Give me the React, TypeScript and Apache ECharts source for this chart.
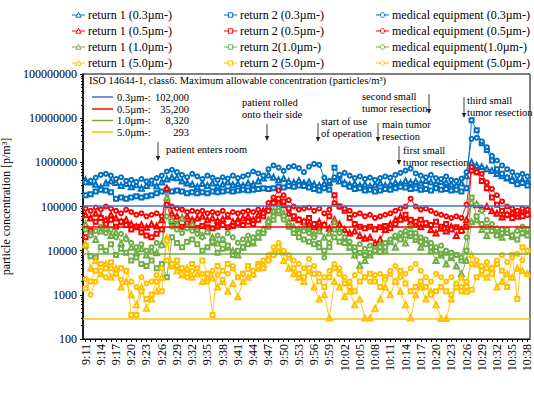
import { useEffect, useRef } from "react";
import * as echarts from "echarts";

// ---- categories: one sample per minute, 9:11 .. 10:38 ----
const times: string[] = [];
for (let m = 9 * 60 + 11; m <= 10 * 60 + 38; m++) {
  times.push(`${Math.floor(m / 60)}:${String(m % 60).padStart(2, "0")}`);
}

// ---- 0.3 µm ----
const ret1_03 = [
  4.0e5, 3.6e5, 3.2e5, 2.7e5, 3.4e5, 3.8e5, 3.5e5, 3.0e5, 3.3e5, 2.8e5, 3.1e5,
  2.6e5, 3.0e5, 3.4e5, 2.9e5, 3.6e5, 4.2e5, 4.6e5, 4.5e5, 3.8e5, 3.4e5, 3.2e5,
  2.8e5, 3.3e5, 3.0e5, 3.4e5, 2.9e5, 3.2e5, 3.6e5, 3.1e5, 3.3e5, 3.0e5, 3.4e5,
  3.2e5, 3.8e5, 4.4e5, 5.2e5, 4.6e5, 4.0e5, 4.3e5, 3.7e5, 3.5e5, 3.9e5, 3.4e5,
  3.6e5, 3.2e5, 3.0e5, 3.3e5, 3.5e5, 4.2e5, 3.8e5, 3.4e5, 3.1e5, 3.3e5, 3.0e5,
  3.2e5, 2.9e5, 3.1e5, 3.4e5, 3.0e5, 3.2e5, 3.5e5, 3.3e5, 3.8e5, 3.5e5, 3.7e5,
  3.4e5, 3.9e5, 3.6e5, 3.3e5, 3.7e5, 3.5e5, 3.2e5, 3.0e5, 3.4e5, 5.0e5, 1.0e6,
  8.5e5, 8.0e5, 7.2e5, 6.5e5, 5.6e5, 5.0e5, 4.4e5, 4.2e5, 3.8e5, 4.0e5, 3.6e5,
];
const ret2_03 = [
  1.8e5, 1.9e5, 2.2e5, 2.4e5, 2.3e5, 2.1e5, 1.5e5, 1.6e5, 1.5e5, 1.6e5, 1.7e5,
  1.6e5, 1.7e5, 1.8e5, 2.0e5, 2.2e5, 2.4e5, 2.2e5, 2.3e5, 2.2e5, 2.0e5, 2.1e5,
  2.0e5, 2.1e5, 2.0e5, 2.2e5, 2.1e5, 2.2e5, 2.3e5, 2.2e5, 2.3e5, 2.4e5, 2.3e5,
  2.4e5, 2.5e5, 2.6e5, 2.5e5, 2.6e5, 2.8e5, 2.7e5, 2.9e5, 2.8e5, 3.0e5, 2.9e5,
  2.7e5, 2.5e5, 2.3e5, 2.6e5, 2.4e5, 7.5e5, 5.0e5, 3.2e5, 2.8e5, 2.5e5, 2.6e5,
  2.3e5, 2.4e5, 2.2e5, 2.3e5, 2.5e5, 2.4e5, 2.6e5, 2.8e5, 2.7e5, 2.5e5, 2.6e5,
  2.4e5, 2.5e5, 2.3e5, 2.6e5, 2.4e5, 2.5e5, 2.3e5, 2.4e5, 2.2e5, 2.6e5, 9.0e6,
  5.3e6, 2.7e6, 1.9e6, 1.1e6, 7.0e5, 5.5e5, 4.5e5, 3.8e5, 3.2e5, 3.4e5, 3.0e5,
];
const med_03 = [
  3.5e5, 3.8e5, 4.5e5, 5.2e5, 5.5e5, 5.0e5, 4.2e5, 4.6e5, 3.8e5, 4.0e5, 3.6e5,
  4.2e5, 3.7e5, 3.9e5, 4.4e5, 5.0e5, 6.2e5, 6.8e5, 6.0e5, 5.2e5, 4.6e5, 5.5e5,
  4.8e5, 4.2e5, 5.0e5, 4.5e5, 4.0e5, 4.6e5, 4.3e5, 5.0e5, 4.4e5, 4.8e5, 5.2e5,
  6.2e5, 5.6e5, 5.0e5, 7.0e5, 8.5e5, 7.6e5, 6.4e5, 7.8e5, 8.2e5, 7.4e5, 6.0e5,
  8.0e5, 9.2e5, 8.8e5, 4.5e5, 3.8e5, 4.6e5, 5.2e5, 5.8e5, 5.0e5, 4.4e5, 4.8e5,
  4.2e5, 4.5e5, 4.0e5, 4.4e5, 4.8e5, 4.5e5, 5.2e5, 5.8e5, 6.5e5, 7.2e5, 5.6e5,
  5.0e5, 4.6e5, 5.2e5, 4.4e5, 4.2e5, 4.8e5, 4.0e5, 3.8e5, 4.3e5, 6.0e5, 3.4e6,
  3.6e6, 3.0e6, 2.2e6, 1.4e6, 1.1e6, 8.5e5, 7.0e5, 6.0e5, 5.0e5, 5.5e5, 4.8e5,
];

// ---- 0.5 µm ----
const ret1_05 = [
  6.5e4, 5.5e4, 7.0e4, 6.0e4, 5.0e4, 6.5e4, 5.5e4, 4.5e4, 5.0e4, 4.0e4, 3.5e4,
  3.8e4, 3.4e4, 4.0e4, 3.6e4, 5.0e4, 2.6e5, 7.0e4, 6.0e4, 5.5e4, 6.0e4, 5.0e4,
  5.5e4, 6.0e4, 5.0e4, 5.5e4, 4.8e4, 5.2e4, 6.0e4, 4.5e4, 5.0e4, 5.5e4, 6.0e4,
  5.0e4, 6.5e4, 8.0e4, 1.0e5, 1.5e5, 1.3e5, 1.1e5, 7.0e4, 5.5e4, 5.0e4, 4.5e4,
  4.0e4, 3.5e4, 4.5e4, 3.8e4, 3.2e4, 5.0e4, 4.0e4, 3.0e4, 2.5e4, 2.8e4, 2.2e4,
  1.9e4, 2.0e4, 1.5e4, 1.8e4, 3.0e4, 4.0e4, 5.0e4, 6.0e4, 5.5e4, 4.5e4, 4.0e4,
  3.5e4, 4.0e4, 3.0e4, 2.5e4, 3.2e4, 2.8e4, 3.5e4, 2.2e4, 3.0e4, 5.0e4, 1.2e5,
  1.1e5, 9.0e4, 1.0e5, 8.0e4, 7.0e4, 5.8e4, 6.5e4, 7.5e4, 6.0e4, 8.0e4, 7.0e4,
];
const ret2_05 = [
  2.0e4, 2.8e4, 4.5e4, 5.5e4, 4.0e4, 5.0e4, 3.5e4, 4.5e4, 3.8e4, 3.0e4, 3.5e4,
  2.6e4, 2.2e4, 2.0e4, 2.4e4, 3.0e4, 1.1e5, 4.5e4, 4.0e4, 3.5e4, 4.2e4, 3.8e4,
  3.3e4, 3.6e4, 3.4e4, 3.2e4, 3.5e4, 3.8e4, 3.4e4, 3.6e4, 4.2e4, 3.8e4, 4.5e4,
  4.0e4, 5.0e4, 6.0e4, 8.0e4, 1.2e5, 1.5e5, 1.3e5, 9.0e4, 6.0e4, 5.0e4, 4.5e4,
  5.5e4, 4.0e4, 3.2e4, 3.8e4, 6.0e4, 1.8e5, 1.0e5, 8.0e4, 5.5e4, 4.0e4, 3.5e4,
  3.2e4, 3.5e4, 3.0e4, 3.4e4, 3.6e4, 3.2e4, 4.0e4, 5.0e4, 6.5e4, 5.0e4, 4.5e4,
  5.0e4, 4.2e4, 3.8e4, 4.5e4, 3.5e4, 4.0e4, 3.0e4, 3.4e4, 2.8e4, 3.5e4, 6.5e5,
  6.0e5, 3.8e5, 2.6e5, 1.6e5, 1.1e5, 8.0e4, 6.5e4, 5.5e4, 7.0e4, 6.0e4, 6.5e4,
];
const med_05 = [
  9.0e4, 8.0e4, 9.5e4, 8.5e4, 1.0e5, 9.0e4, 8.0e4, 7.0e4, 8.5e4, 7.5e4, 6.5e4,
  7.0e4, 6.0e4, 6.5e4, 7.0e4, 6.0e4, 1.1e5, 1.0e5, 9.0e4, 8.5e4, 7.5e4, 8.0e4,
  7.5e4, 8.0e4, 7.0e4, 7.5e4, 7.0e4, 8.0e4, 6.5e4, 7.5e4, 7.0e4, 7.5e4, 8.0e4,
  7.5e4, 8.5e4, 7.0e4, 1.2e5, 1.6e5, 2.3e5, 1.8e5, 1.4e5, 1.0e5, 8.5e4, 9.0e4,
  9.5e4, 8.0e4, 9.0e4, 7.0e4, 8.5e4, 1.2e5, 1.0e5, 9.0e4, 8.0e4, 6.5e4, 7.0e4,
  6.0e4, 6.5e4, 5.5e4, 6.0e4, 6.5e4, 7.0e4, 8.0e4, 9.0e4, 1.0e5, 1.5e5, 1.0e5,
  8.5e4, 9.0e4, 8.0e4, 7.0e4, 6.5e4, 6.0e4, 5.5e4, 6.0e4, 5.5e4, 1.1e5, 7.8e5,
  6.0e5, 5.5e5, 3.5e5, 2.5e5, 1.8e5, 1.3e5, 1.0e5, 9.0e4, 8.0e4, 9.0e4, 8.5e4,
];

// ---- 1.0 µm ----
const ret1_10 = [
  4.0e4, 2.5e4, 1.8e4, 2.8e4, 3.2e4, 2.2e4, 2.6e4, 1.5e4, 2.0e4, 1.2e4, 9.0e3,
  1.1e4, 8.0e3, 1.0e4, 9.0e3, 1.4e4, 1.6e5, 5.0e4, 4.0e4, 5.5e4, 3.5e4, 4.0e4,
  3.0e4, 2.2e4, 2.8e4, 2.0e4, 1.5e4, 1.8e4, 1.2e4, 1.0e4, 8.0e3, 1.2e4, 1.6e4,
  1.5e4, 2.0e4, 3.0e4, 5.0e4, 8.0e4, 1.0e5, 7.0e4, 4.5e4, 3.5e4, 3.0e4, 3.5e4,
  3.0e4, 2.4e4, 2.8e4, 2.0e4, 2.5e4, 4.5e4, 3.0e4, 2.0e4, 1.2e4, 8.0e3, 4.7e3,
  6.0e3, 8.0e3, 1.0e4, 1.4e4, 1.0e4, 1.6e4, 1.2e4, 2.0e4, 1.5e4, 2.2e4, 1.8e4,
  1.2e4, 1.5e4, 1.0e4, 6.0e3, 8.0e3, 5.0e3, 7.0e3, 4.5e3, 3.0e3, 6.0e3, 4.5e4,
  5.0e4, 3.0e4, 2.2e4, 3.5e4, 2.5e4, 2.0e4, 2.8e4, 2.2e4, 3.0e4, 2.5e4, 2.8e4,
];
const ret2_10 = [
  1.3e4, 7.5e3, 7.0e3, 1.2e4, 1.0e4, 1.4e4, 8.0e3, 1.1e4, 9.0e3, 6.0e3, 7.0e3,
  5.0e3, 4.5e3, 6.0e3, 4.0e3, 5.0e3, 2.5e3, 2.0e4, 1.5e4, 1.2e4, 1.6e4, 1.8e4,
  1.4e4, 1.0e4, 1.2e4, 1.5e4, 9.0e3, 1.1e4, 1.3e4, 8.0e3, 1.0e4, 1.2e4, 1.4e4,
  1.6e4, 2.0e4, 2.5e4, 3.5e4, 5.0e4, 7.0e4, 6.0e4, 3.5e4, 2.5e4, 2.0e4, 1.8e4,
  1.6e4, 1.4e4, 1.2e4, 1.0e4, 1.2e4, 2.0e4, 1.6e4, 1.5e4, 1.2e4, 1.0e4, 9.0e3,
  8.0e3, 9.0e3, 1.1e4, 9.5e3, 1.2e4, 1.6e4, 2.0e4, 1.8e4, 2.2e4, 2.5e4, 2.0e4,
  1.6e4, 1.4e4, 1.2e4, 1.0e4, 8.5e3, 9.0e3, 7.5e3, 8.0e3, 6.0e3, 1.0e4, 1.6e5,
  6.0e4, 4.0e4, 3.5e4, 2.8e4, 2.2e4, 3.0e4, 2.5e4, 2.0e4, 1.8e4, 2.5e4, 2.2e4,
];
const med_10 = [
  3.0e4, 2.2e4, 2.8e4, 3.5e4, 2.5e4, 3.0e4, 2.0e4, 2.4e4, 1.8e4, 1.5e4, 1.2e4,
  1.4e4, 1.0e4, 1.2e4, 1.5e4, 1.3e4, 6.0e4, 3.5e4, 3.0e4, 2.5e4, 3.2e4, 2.8e4,
  2.4e4, 2.0e4, 2.6e4, 1.6e4, 2.2e4, 1.8e4, 2.5e4, 2.0e4, 1.5e4, 1.8e4, 2.2e4,
  2.0e4, 2.6e4, 3.0e4, 4.5e4, 6.0e4, 8.0e4, 5.0e4, 3.5e4, 3.0e4, 2.5e4, 2.8e4,
  2.5e4, 2.0e4, 1.5e4, 7.0e3, 1.5e4, 3.0e4, 2.5e4, 2.0e4, 1.6e4, 1.2e4, 1.4e4,
  1.1e4, 1.3e4, 1.0e4, 1.2e4, 1.5e4, 1.8e4, 2.2e4, 2.5e4, 2.8e4, 3.5e4, 2.5e4,
  2.0e4, 1.8e4, 1.5e4, 1.2e4, 1.3e4, 1.0e4, 9.0e3, 8.0e3, 7.0e3, 2.0e4, 1.2e5,
  1.1e5, 8.0e4, 5.0e4, 4.0e4, 3.2e4, 2.5e4, 3.0e4, 2.2e4, 2.8e4, 3.5e4, 3.0e4,
];

// ---- 5.0 µm ----
const ret1_50 = [
  1.4e4, 4.0e3, 6.0e3, 3.0e3, 5.0e3, 2.5e3, 4.0e3, 1.5e3, 2.0e3, 1.0e3, 6.0e2,
  1.5e3, 5.0e2, 8.0e2, 1.2e3, 2.5e3, 2.0e4, 4.5e3, 3.5e3, 2.8e3, 4.0e3, 2.5e3,
  3.0e3, 2.0e3, 2.5e3, 2.4e3, 1.5e3, 2.0e3, 1.2e3, 1.8e3, 9.0e2, 2.0e3, 2.5e3,
  3.0e3, 4.0e3, 5.0e3, 7.0e3, 9.0e3, 1.0e4, 6.0e3, 4.0e3, 3.0e3, 2.5e3, 2.0e3,
  3.5e3, 1.5e3, 8.0e2, 1.0e3, 3.0e2, 2.0e3, 1.5e3, 9.0e2, 1.2e3, 6.0e2, 8.0e2,
  3.0e2, 3.0e2, 5.0e2, 8.0e2, 1.5e3, 1.0e3, 2.0e3, 1.2e3, 6.0e2, 3.0e2, 1.0e3,
  1.5e3, 8.0e2, 1.2e3, 6.0e2, 2.9e2, 2.9e2, 8.0e2, 1.5e3, 2.5e3, 1.2e3, 8.0e3,
  5.0e3, 3.0e3, 2.5e3, 4.0e3, 1.5e3, 2.0e3, 3.0e3, 2.5e3, 4.0e3, 3.5e3, 3.0e3,
];
const ret2_50 = [
  1.4e3, 2.0e3, 3.5e3, 5.0e3, 4.0e3, 5.5e3, 3.0e3, 4.0e3, 3.5e3, 3.5e2, 3.5e2,
  1.2e3, 8.0e2, 1.0e3, 2.0e3, 1.2e3, 1.7e4, 5.0e3, 6.0e3, 4.0e3, 3.0e3, 5.0e3,
  4.0e3, 6.0e3, 3.0e3, 3.5e2, 4.5e3, 3.5e3, 5.0e3, 4.0e3, 2.5e3, 3.0e3, 4.5e3,
  3.5e3, 5.0e3, 4.0e3, 6.0e3, 8.0e3, 1.2e4, 9.0e3, 7.0e3, 4.0e3, 3.0e3, 2.5e3,
  4.0e3, 3.0e3, 2.0e3, 1.5e3, 2.5e3, 4.0e3, 3.0e3, 1.8e3, 1.5e3, 1.2e3, 2.0e3,
  2.5e3, 3.0e3, 2.0e3, 1.5e3, 2.5e3, 3.0e3, 2.0e3, 3.5e3, 1.8e3, 1.2e3, 1.5e3,
  2.0e3, 1.5e3, 1.0e3, 1.2e3, 1.5e3, 1.2e3, 1.0e3, 1.5e3, 1.2e3, 1.5e3, 1.3e3,
  2.5e3, 3.5e3, 4.0e3, 3.0e3, 5.0e3, 3.5e3, 1.5e3, 8.0e3, 8.0e2, 1.2e4, 1.0e4,
];
const med_50 = [
  2.3e3, 1.0e3, 2.0e3, 3.5e3, 2.5e3, 4.0e3, 3.0e3, 2.2e3, 3.5e3, 2.0e3, 1.5e3,
  2.5e3, 1.8e3, 2.0e3, 2.8e3, 4.0e3, 6.0e3, 5.0e3, 4.5e3, 3.0e3, 2.5e3, 3.5e3,
  4.0e3, 3.0e3, 2.0e3, 3.5e3, 2.8e3, 2.2e3, 3.0e3, 4.5e3, 2.5e3, 3.0e3, 3.8e3,
  2.8e3, 4.5e3, 6.0e3, 8.0e3, 1.2e4, 1.5e4, 1.0e4, 8.0e3, 6.0e3, 5.0e3, 4.0e3,
  6.5e3, 4.5e3, 3.0e3, 2.5e3, 3.5e3, 5.0e3, 4.0e3, 2.5e3, 2.0e3, 2.8e3, 3.5e3,
  2.5e3, 2.0e3, 2.8e3, 3.0e3, 2.2e3, 3.5e3, 4.5e3, 2.5e3, 3.0e3, 4.0e3, 5.0e3,
  3.5e3, 2.5e3, 2.0e3, 3.0e3, 2.5e3, 2.0e3, 2.5e3, 1.8e3, 1.5e3, 2.0e3, 5.0e3,
  6.0e3, 4.5e3, 5.5e3, 4.0e3, 6.0e3, 8.0e3, 5.5e3, 7.0e3, 8.5e3, 6.0e3, 1.0e4,
];

// ---- ISO 14644-1 class 6 limits ----
const limitSizes = ["0.3µm-:", "0.5µm-:", "1.0µm-:", "5.0µm-:"];
const limitValues = [102000, 35200, 8320, 293];

const FONT = "Liberation Serif, Times New Roman, serif";
const BLUE = "#0070C0";
const RED = "#FF0000";
const GREEN = "#70AD47";
const YELLOW = "#FFC000";
const LIMIT_COLORS = ["#4472C4", "#FF0000", "#70AD47", "#FFC000"];

const seriesDefs = [
  { name: "return 1 (0.3µm-)", data: ret1_03, color: BLUE, symbol: "emptyTriangle", limit: 0 },
  { name: "return 2 (0.3µm-)", data: ret2_03, color: BLUE, symbol: "emptyRect", limit: -1 },
  { name: "medical equipment (0.3µm-)", data: med_03, color: BLUE, symbol: "emptyCircle", limit: -1 },
  { name: "return 1 (0.5µm-)", data: ret1_05, color: RED, symbol: "emptyTriangle", limit: 1 },
  { name: "return 2 (0.5µm-)", data: ret2_05, color: RED, symbol: "emptyRect", limit: -1 },
  { name: "medical equipment (0.5µm-)", data: med_05, color: RED, symbol: "emptyCircle", limit: -1 },
  { name: "return 1 (1.0µm-)", data: ret1_10, color: GREEN, symbol: "emptyTriangle", limit: 2 },
  { name: "return 2(1.0µm-)", data: ret2_10, color: GREEN, symbol: "emptyRect", limit: -1 },
  { name: "medical equipment(1.0µm-)", data: med_10, color: GREEN, symbol: "emptyCircle", limit: -1 },
  { name: "return 1 (5.0µm-)", data: ret1_50, color: YELLOW, symbol: "emptyTriangle", limit: 3 },
  { name: "return 2 (5.0µm-)", data: ret2_50, color: YELLOW, symbol: "emptyRect", limit: -1 },
  { name: "medical equipment (5.0µm-)", data: med_50, color: YELLOW, symbol: "emptyCircle", limit: -1 },
];

// annotation texts with arrow (x, y0 -> y1)
const annotations = [
  { lines: ["patient enters room"], tx: 166, ty: 149, ax: 158, ay0: 142, ay1: 161 },
  { lines: ["patient rolled", "onto their side"], tx: 242, ty: 102, ax: 267, ay0: 124, ay1: 141 },
  { lines: ["start of use", "of operation"], tx: 321, ty: 121, ax: 318, ay0: 123, ay1: 142 },
  { lines: ["main tumor", "resection"], tx: 382, ty: 124, ax: 378, ay0: 123, ay1: 142 },
  { lines: ["first small", "tumor resection"], tx: 403, ty: 150, ax: 399, ay0: 146, ay1: 165 },
  { lines: ["second small", "tumor resection"], tx: 362, ty: 96, ax: 429, ay0: 94, ay1: 114 },
  { lines: ["third small", "tumor resection"], tx: 467, ty: 100, ax: 464, ay0: 97, ay1: 118 },
];

const LEGEND_LEFT = [72, 224, 376];
const LEGEND_TOP = 8;
const LEGEND_PITCH = 16;
const LEGEND_ICON_W = 13;

export default function App() {
  const ref = useRef<HTMLDivElement>(null);
  useEffect(() => {
    if (!ref.current) return;
    const chart = echarts.init(ref.current, undefined, { renderer: "svg" });

    const series: any[] = seriesDefs.map((d) => {
      const s: any = {
        name: d.name,
        type: "line",
        data: d.data,
        symbol: d.symbol,
        symbolSize: d.symbol === "emptyTriangle" ? 5 : 4,
        showAllSymbol: true,
        lineStyle: { color: d.color, width: 0.9 },
        itemStyle: { color: d.color, borderWidth: 0.9 },
        emphasis: { disabled: true },
      };
      if (d.limit >= 0) {
        s.markLine = {
          silent: true,
          symbol: "none",
          label: { show: false },
          lineStyle: { color: LIMIT_COLORS[d.limit], type: "solid", width: 1.5 },
          data: [{ yAxis: limitValues[d.limit] }],
        };
      }
      return s;
    });

    // legend: text from ECharts legend, icons (line + hollow marker) drawn as graphics
    const legendCol = (left: number, idx: number[]) => ({
      orient: "vertical",
      left,
      top: LEGEND_TOP,
      itemWidth: LEGEND_ICON_W,
      itemHeight: 6,
      itemGap: LEGEND_PITCH - 14,
      padding: 0,
      icon: "rect",
      itemStyle: { color: "rgba(0,0,0,0)", borderWidth: 0 },
      lineStyle: { opacity: 0 },
      data: idx.map((i) => seriesDefs[i].name),
      selectedMode: false,
      textStyle: { fontFamily: FONT, fontSize: 12, color: "#000", lineHeight: 14, padding: [0, 0, 0, -2] },
    });

    const graphics: any[] = [];
    seriesDefs.forEach((d, i) => {
      const col = i % 3;
      const row = Math.floor(i / 3);
      const x0 = LEGEND_LEFT[col];
      const cy = LEGEND_TOP + 7 + row * LEGEND_PITCH;
      const cx = x0 + LEGEND_ICON_W / 2;
      graphics.push({
        type: "line",
        shape: { x1: x0, y1: cy, x2: x0 + LEGEND_ICON_W, y2: cy },
        style: { stroke: d.color, lineWidth: 1 },
      });
      const mstyle = { fill: "#fff", stroke: d.color, lineWidth: 1 };
      if (d.symbol === "emptyTriangle") {
        graphics.push({
          type: "polygon",
          shape: { points: [[cx - 2.6, cy + 2.2], [cx + 2.6, cy + 2.2], [cx, cy - 2.6]] },
          style: mstyle,
        });
      } else if (d.symbol === "emptyRect") {
        graphics.push({ type: "rect", shape: { x: cx - 2.2, y: cy - 2.2, width: 4.4, height: 4.4 }, style: mstyle });
      } else {
        graphics.push({ type: "circle", shape: { cx, cy, r: 2.3 }, style: mstyle });
      }
    });

    graphics.push({
      type: "text",
      x: 89,
      y: 80,
      style: {
        text: "ISO 14644-1, class6. Maximum allowable concentration (particles/m³)",
        font: `10.5px ${FONT}`,
        fill: "#000",
        align: "left",
        verticalAlign: "middle",
      },
    });
    const rowY = [97, 109, 120.5, 132];
    limitValues.forEach((v, i) => {
      graphics.push({
        type: "line",
        shape: { x1: 92, y1: rowY[i], x2: 113, y2: rowY[i] },
        style: { stroke: LIMIT_COLORS[i], lineWidth: 1.5 },
      });
      graphics.push({
        type: "text",
        x: 117,
        y: rowY[i],
        style: { text: limitSizes[i], font: `10.5px ${FONT}`, fill: "#000", align: "left", verticalAlign: "middle" },
      });
      graphics.push({
        type: "text",
        x: 189,
        y: rowY[i],
        style: {
          text: v.toLocaleString("en-US"),
          font: `10.5px ${FONT}`,
          fill: "#000",
          align: "right",
          verticalAlign: "middle",
        },
      });
    });
    annotations.forEach((a) => {
      a.lines.forEach((ln, k) => {
        graphics.push({
          type: "text",
          x: a.tx,
          y: a.ty + k * 12,
          style: { text: ln, font: `10.5px ${FONT}`, fill: "#000", align: "left", verticalAlign: "middle" },
        });
      });
      graphics.push({
        type: "line",
        shape: { x1: a.ax, y1: a.ay0, x2: a.ax, y2: a.ay1 - 4 },
        style: { stroke: "#404040", lineWidth: 1 },
      });
      graphics.push({
        type: "polygon",
        shape: { points: [[a.ax - 2.2, a.ay1 - 5], [a.ax + 2.2, a.ay1 - 5], [a.ax, a.ay1]] },
        style: { fill: "#202020" },
      });
    });

    chart.setOption({
      animation: false,
      backgroundColor: "#fff",
      textStyle: { fontFamily: FONT },
      legend: [
        legendCol(LEGEND_LEFT[0], [0, 3, 6, 9]),
        legendCol(LEGEND_LEFT[1], [1, 4, 7, 10]),
        legendCol(LEGEND_LEFT[2], [2, 5, 8, 11]),
      ],
      grid: {
        left: 83,
        right: 4,
        top: 74,
        bottom: 54,
        containLabel: false,
        outerBoundsMode: "none",
        show: true,
        borderColor: "#000",
        borderWidth: 1,
      },
      xAxis: {
        type: "category",
        data: times,
        boundaryGap: true,
        axisLine: { lineStyle: { color: "#000", width: 1 } },
        axisTick: { show: true, interval: 0, alignWithLabel: true, length: 3, lineStyle: { color: "#000" } },
        axisLabel: { interval: 2, rotate: 90, fontFamily: FONT, fontSize: 12, color: "#000", margin: 5 },
        splitLine: { show: false },
      },
      yAxis: {
        type: "log",
        logBase: 10,
        min: 100,
        max: 100000000,
        splitNumber: 6,
        name: "particle concentration [p/m³]",
        nameLocation: "middle",
        nameGap: 58,
        nameRotate: 90,
        nameTextStyle: { fontFamily: FONT, fontSize: 12, color: "#000" },
        axisLine: { show: true, lineStyle: { color: "#000", width: 1.5 } },
        axisTick: { show: true, length: 3, lineStyle: { color: "#000" } },
        minorTick: { show: true, splitNumber: 9, length: 2, lineStyle: { color: "#000" } },
        axisLabel: {
          fontFamily: FONT,
          fontSize: 12,
          color: "#000",
          margin: 6,
          formatter: (v: number) => String(Math.round(v)),
        },
        splitLine: { show: false },
        minorSplitLine: { show: false },
      },
      graphic: graphics,
      series,
    });
    return () => chart.dispose();
  }, []);
  return (
    <div
      ref={ref}
      style={{ position: "absolute", left: 0, top: 0, width: 534, height: 393 }}
    />
  );
}
